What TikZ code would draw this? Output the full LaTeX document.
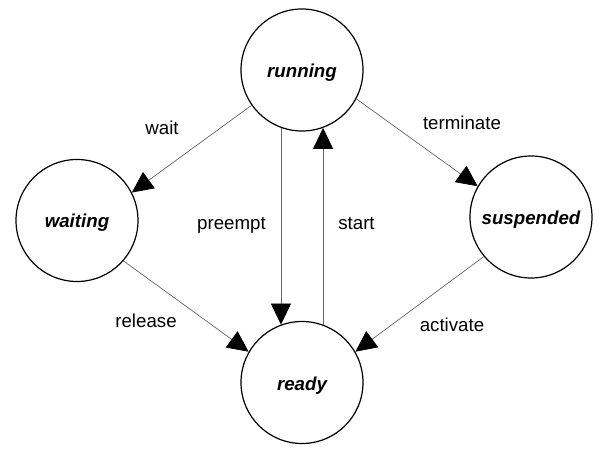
\documentclass[tikz,border=0pt]{standalone}
\usepackage{fontspec}
\setmainfont{Liberation Sans}
\usetikzlibrary{arrows.meta}

\tikzset{
  state/.style={circle, draw=black, line width=1.2bp, minimum size=122bp,
    inner sep=0pt, font=\fontsize{18.7bp}{22bp}\selectfont\bfseries\itshape,
    text height=15bp, text depth=0bp},
  trans/.style={draw=black!60, line width=0.7bp,
    -{Triangle[length=21bp, width=20bp, color=black]}},
  translabel/.style={anchor=base, inner sep=0pt,
    font=\fontsize{18.7bp}{22bp}\selectfont}
}

\begin{document}
\begin{tikzpicture}[x=1bp, y=-1bp]
  \useasboundingbox[fill=white] (0,0) rectangle (612,449);

  % process states
  \node[state] (running)   at (302,70)    {running};
  \node[state] (waiting)   at (77,220.5)  {waiting};
  \node[state] (suspended) at (531,217)   {suspended};
  \node[state] (ready)     at (302,382.5) {ready};

  % transitions
  \draw[trans] (running.215) -- (waiting.27);
  \draw[trans] (running.332) -- (suspended.150);
  \draw[trans] (running.250) -- (ready.110);
  \draw[trans] (ready.70)    -- (running.290);
  \draw[trans] (waiting.319) -- (ready.150);
  \draw[trans] (suspended.220) -- (ready.30);

  % transition labels
  \node[translabel] (lwait)      at (162,134.3)  {wait};
  \node[translabel] (lterminate) at (462,129.5)  {terminate};
  \node[translabel] (lpreempt)   at (231.5,229.5){preempt};
  \node[translabel] (lstart)     at (356.5,230)  {start};
  \node[translabel] (lrelease)   at (146,327.5)  {release};
  \node[translabel] (lactivate)  at (452,331)    {activate};
\end{tikzpicture}
\end{document}
